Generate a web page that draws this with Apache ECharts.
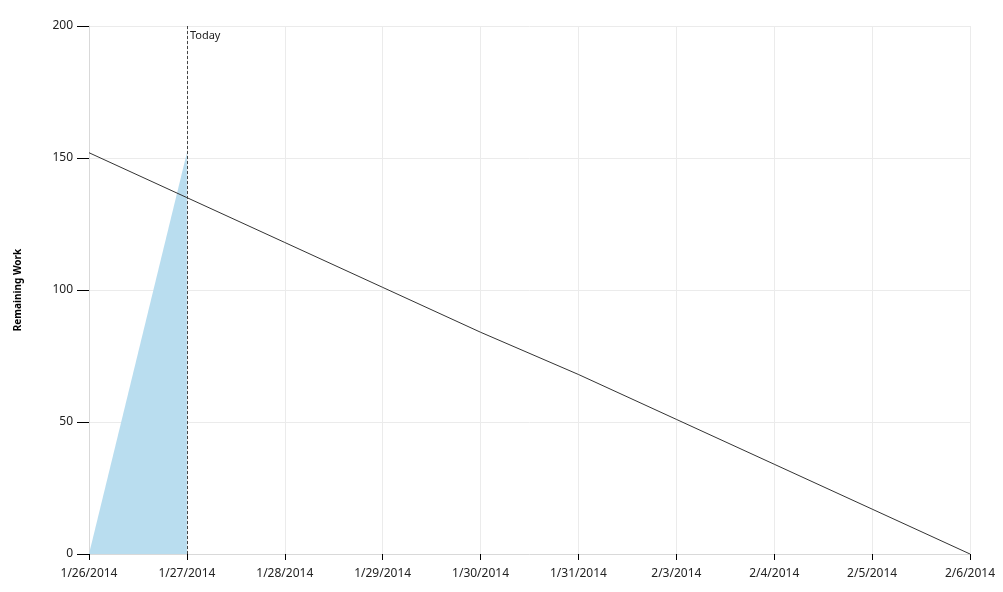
<!DOCTYPE html>
<html><head><meta charset="utf-8">
<script src="https://cdn.jsdelivr.net/npm/echarts@6/dist/echarts.min.js"></script>
<style>html,body{margin:0;padding:0;background:#fff}#c{width:1003px;height:592px}</style>
</head><body><div id="c"></div>
<script>
var categories = ['1/26/2014','1/27/2014','1/28/2014','1/29/2014','1/30/2014','1/31/2014','2/3/2014','2/4/2014','2/5/2014','2/6/2014'];
var remainingWork = [0, 152, null, null, null, null, null, null, null, null];
var idealTrend = [152, 135, 118, 101, 84, 68, 51, 34, 17, 0];
var yTicks = {min: 0, max: 200, interval: 50};
var todayCategory = '1/27/2014';
var FONT = '"Noto Sans", sans-serif';

var chart = echarts.init(document.getElementById('c'));
chart.setOption({
  animation: false,
  grid: {left: 89, right: 33, top: 26, bottom: 38},
  xAxis: {
    type: 'category', data: categories, boundaryGap: false,
    axisLine: {lineStyle: {color: '#d9d9d9'}},
    axisTick: {show: true, length: 6, lineStyle: {color: '#000'}},
    axisLabel: {color: '#222', fontSize: 12, fontFamily: FONT, margin: 14},
    splitLine: {show: true, lineStyle: {color: '#ebebeb'}}
  },
  yAxis: {
    type: 'value', min: yTicks.min, max: yTicks.max, interval: yTicks.interval,
    name: 'Remaining Work', nameLocation: 'middle', nameGap: 66, nameRotate: 90,
    nameTextStyle: {fontSize: 10, fontWeight: 'bold', color: '#000', fontFamily: FONT},
    axisLine: {show: true, lineStyle: {color: '#d9d9d9'}},
    axisTick: {show: true, length: 12, lineStyle: {color: '#000'}},
    axisLabel: {color: '#222', fontSize: 12, fontFamily: FONT, margin: 16},
    splitLine: {show: true, lineStyle: {color: '#ebebeb'}}
  },
  series: [
    {
      type: 'line', data: remainingWork, symbol: 'none',
      lineStyle: {width: 0}, areaStyle: {color: '#b9ddef', opacity: 1},
      markLine: {
        silent: true, symbol: 'none',
        lineStyle: {type: [3, 2], color: '#444', width: 1},
        label: {show: false},
        data: [{xAxis: todayCategory}]
      },
      markPoint: {
        symbol: 'circle', symbolSize: 0,
        label: {show: true, formatter: 'Today', position: 'inside', align: 'left', verticalAlign: 'middle',
                offset: [3, 10], color: '#222', fontSize: 11, fontFamily: FONT},
        data: [{coord: [todayCategory, yTicks.max]}]
      }
    },
    {
      type: 'line', data: idealTrend, symbol: 'none',
      lineStyle: {color: '#333', width: 1}
    }
  ]
});
</script></body></html>
